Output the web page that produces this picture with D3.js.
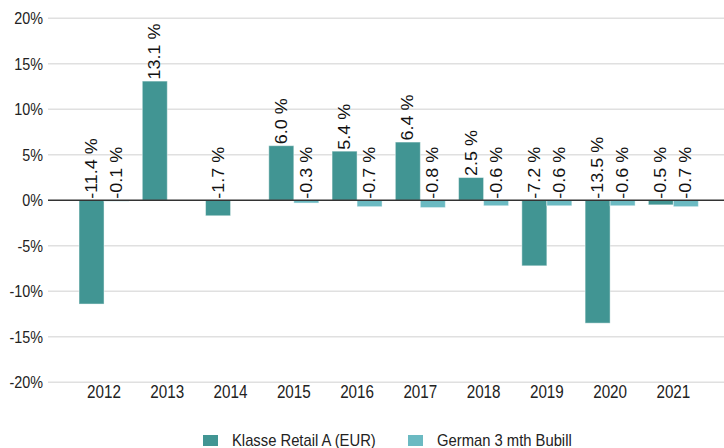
<!DOCTYPE html>
<html>
<head>
<meta charset="utf-8">
<script src="https://cdnjs.cloudflare.com/ajax/libs/d3/7.8.5/d3.min.js"></script>
<style>
  body { margin: 0; background: #fff; }
  svg { display: block; font-family: "Liberation Sans", Arial, sans-serif; }
  .grid line { stroke: #e0e0e0; stroke-width: 1.5; }
  .tick text { fill: #222; }
</style>
</head>
<body>
<script>
// data
const years = ['2012', '2013', '2014', '2015', '2016', '2017', '2018', '2019', '2020', '2021'];
const fund = [-11.4, 13.1, -1.7, 6.0, 5.4, 6.4, 2.5, -7.2, -13.5, -0.5];
const bubill = [-0.1, null, null, -0.3, -0.7, -0.8, -0.6, -0.6, -0.6, -0.7];
const seriesNames = ['Klasse Retail A (EUR)', 'German 3 mth Bubill'];
const yTicks = [-20, -15, -10, -5, 0, 5, 10, 15, 20];

const colors = ['#419593', '#6bbac2'];
const width = 724, height = 448;
const squeeze = 'scale(0.87, 1)'; // text in the reference is horizontally narrowed

const svg = d3.select('body')
    .append('svg')
    .attr('width', width)
    .attr('height', height);

const x = d3.scaleBand().domain(years).range([72.4, 705]);
const y = d3.scaleLinear().domain([-20, 20]).range([382.3, 18.3]);
const barW = 25;

// gridlines
svg.append('g')
    .attr('class', 'grid')
    .selectAll('line')
    .data(yTicks.filter(d => d !== 0))
    .enter()
    .append('line')
    .attr('x1', 48)
    .attr('x2', width)
    .attr('y1', d => y(d))
    .attr('y2', d => y(d));

// y axis labels
let yAxis = svg.append('g').attr('transform', 'translate(43, 0)');
yAxis.call(d3.axisLeft(y).tickValues(yTicks).tickSize(0).tickPadding(0).tickFormat(d => d + '%'));
yAxis.select('.domain').remove();
yAxis.selectAll('text').attr('font-size', 16.5).attr('font-family', null).attr('transform', squeeze);

// x axis labels
let xAxis = svg.append('g').attr('transform', 'translate(0, 383)');
xAxis.call(d3.axisBottom(x).tickSize(0).tickPadding(3));
xAxis.select('.domain').remove();
xAxis.selectAll('text').attr('font-size', 17.5).attr('font-family', null).attr('transform', squeeze);

// bars
const series = [fund, bubill];
series.forEach((vals, s) => {
    const data = years.map((yr, i) => ({ yr: yr, v: vals[i] })).filter(d => d.v !== null);
    const bx = d => x(d.yr) + x.bandwidth() / 2 - barW + s * barW;
    svg.append('g')
        .selectAll('rect')
        .data(data)
        .enter()
        .append('rect')
        .attr('x', bx)
        .attr('y', d => y(Math.max(0, d.v)))
        .attr('width', barW)
        .attr('height', d => Math.abs(y(d.v) - y(0)))
        .attr('fill', colors[s])
        .attr('stroke', 'rgba(255,255,255,0.45)')
        .attr('stroke-width', 1);

    svg.append('g')
        .selectAll('text')
        .data(data)
        .enter()
        .append('text')
        .attr('transform', d => `translate(${bx(d) + barW / 2}, ${y(Math.max(0, d.v)) - 1.5}) ${squeeze} rotate(-90)`)
        .attr('dy', '0.35em')
        .attr('font-size', 18)
        .attr('fill', '#111')
        .text(d => d.v.toFixed(1) + ' %');
});

// zero line
svg.append('line')
    .attr('x1', 48)
    .attr('x2', width)
    .attr('y1', y(0))
    .attr('y2', y(0))
    .attr('stroke', '#333')
    .attr('stroke-width', 1.5);

// legend
const legendX = [203, 408];
const legend = svg.append('g')
    .selectAll('g')
    .data(seriesNames)
    .enter()
    .append('g')
    .attr('transform', (d, i) => `translate(${legendX[i]}, 435)`);

legend.append('rect')
    .attr('width', 15)
    .attr('height', 11)
    .attr('fill', (d, i) => colors[i]);

legend.append('text')
    .attr('transform', `translate(29, 11) ${squeeze}`)
    .attr('font-size', 17)
    .attr('fill', '#222')
    .text(d => d);
</script>
</body>
</html>
